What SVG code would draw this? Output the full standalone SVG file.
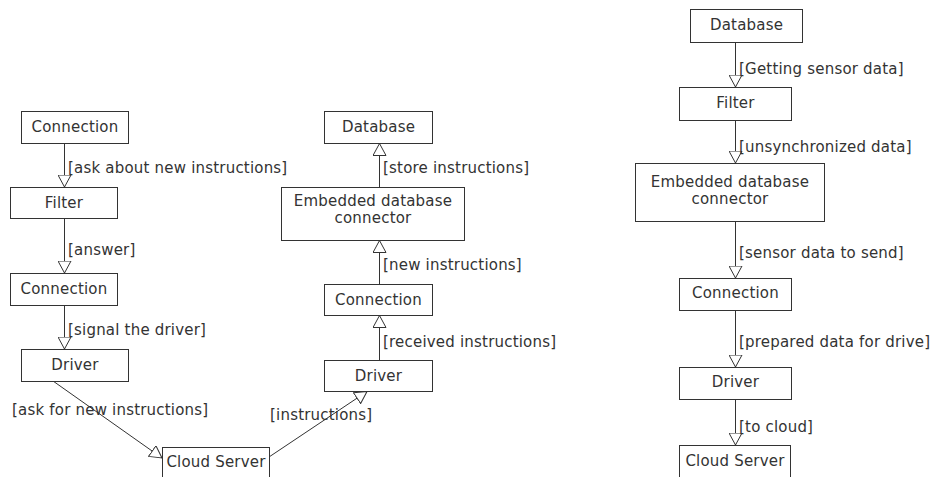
<svg xmlns="http://www.w3.org/2000/svg" width="935" height="477" viewBox="0 0 935 477">
<style>
rect.n{fill:#fff;stroke:#333;stroke-width:1}
text{font-family:"DejaVu Sans","Liberation Sans",sans-serif;font-size:15px;fill:#333;letter-spacing:0.2px}
text.c{text-anchor:middle}
.e line{stroke:#333;stroke-width:1;marker-end:url(#tri)}
</style>
<defs>
<marker id="tri" viewBox="0 0 13 14" refX="12.5" refY="7" markerWidth="13" markerHeight="14" markerUnits="userSpaceOnUse" orient="auto">
<path d="M0.5,0.5 L12.5,7 L0.5,13.5 Z" fill="#fff" stroke="#333" stroke-width="1"/>
</marker>
</defs>
<rect width="935" height="477" fill="#fff"/>
<g id="connectors" class="e">
<line x1="64.5" y1="143" x2="64.5" y2="187"/>
<line x1="64.5" y1="218" x2="64.5" y2="273"/>
<line x1="64.5" y1="305" x2="64.5" y2="349"/>
<line x1="53" y1="381" x2="162" y2="458"/>
<line x1="269" y1="457" x2="367" y2="391.5"/>
<line x1="379.5" y1="360" x2="379.5" y2="315.5"/>
<line x1="379.5" y1="284" x2="379.5" y2="240.5"/>
<line x1="379.5" y1="187" x2="379.5" y2="143.5"/>
<line x1="735.5" y1="42" x2="735.5" y2="87"/>
<line x1="735.5" y1="120" x2="735.5" y2="163"/>
<line x1="735.5" y1="221" x2="735.5" y2="278"/>
<line x1="735.5" y1="310" x2="735.5" y2="367"/>
<line x1="735.5" y1="399" x2="735.5" y2="445"/>
<text x="68" y="173">[ask about new instructions]</text>
<text x="68" y="255">[answer]</text>
<text x="68" y="335">[signal the driver]</text>
<text x="12" y="415">[ask for new instructions]</text>
<text x="270" y="420">[instructions]</text>
<text x="383" y="347">[received instructions]</text>
<text x="383" y="270">[new instructions]</text>
<text x="383" y="173">[store instructions]</text>
<text x="739" y="74">[Getting sensor data]</text>
<text x="739" y="152">[unsynchronized data]</text>
<text x="739" y="258">[sensor data to send]</text>
<text x="739" y="347">[prepared data for drive]</text>
<text x="739" y="432">[to cloud]</text>
</g>
<g id="l_connection1"><rect class="n" x="21.5" y="111.5" width="107" height="32"/><text class="c" x="75" y="132">Connection</text></g>
<g id="l_filter"><rect class="n" x="10.5" y="187.5" width="107" height="31"/><text class="c" x="64" y="208">Filter</text></g>
<g id="l_connection2"><rect class="n" x="10.5" y="273.5" width="107" height="32"/><text class="c" x="64" y="294">Connection</text></g>
<g id="l_driver"><rect class="n" x="21.5" y="349.5" width="107" height="32"/><text class="c" x="75" y="370">Driver</text></g>
<g id="cloud_server1"><rect class="n" x="162.5" y="447.5" width="107" height="40"/><text class="c" x="216" y="467">Cloud Server</text></g>
<g id="m_driver"><rect class="n" x="324.5" y="360.5" width="108" height="31"/><text class="c" x="378.5" y="381">Driver</text></g>
<g id="m_connection"><rect class="n" x="324.5" y="284.5" width="108" height="31"/><text class="c" x="378.5" y="305">Connection</text></g>
<g id="m_embedded"><rect class="n" x="281.5" y="187.5" width="183" height="53"/><text class="c" x="373" y="206">Embedded database</text><text class="c" x="373" y="223">connector</text></g>
<g id="m_database"><rect class="n" x="324.5" y="111.5" width="108" height="32"/><text class="c" x="378.5" y="132">Database</text></g>
<g id="r_database"><rect class="n" x="690.5" y="9.5" width="112" height="33"/><text class="c" x="746.5" y="30">Database</text></g>
<g id="r_filter"><rect class="n" x="679.5" y="87.5" width="112" height="33"/><text class="c" x="735.5" y="108">Filter</text></g>
<g id="r_embedded"><rect class="n" x="635.5" y="163.5" width="189" height="58"/><text class="c" x="730" y="187">Embedded database</text><text class="c" x="730" y="204">connector</text></g>
<g id="r_connection"><rect class="n" x="679.5" y="278.5" width="112" height="32"/><text class="c" x="735.5" y="298">Connection</text></g>
<g id="r_driver"><rect class="n" x="679.5" y="367.5" width="112" height="32"/><text class="c" x="735.5" y="387">Driver</text></g>
<g id="cloud_server2"><rect class="n" x="679.5" y="445.5" width="111" height="40"/><text class="c" x="735" y="466">Cloud Server</text></g>
</svg>
